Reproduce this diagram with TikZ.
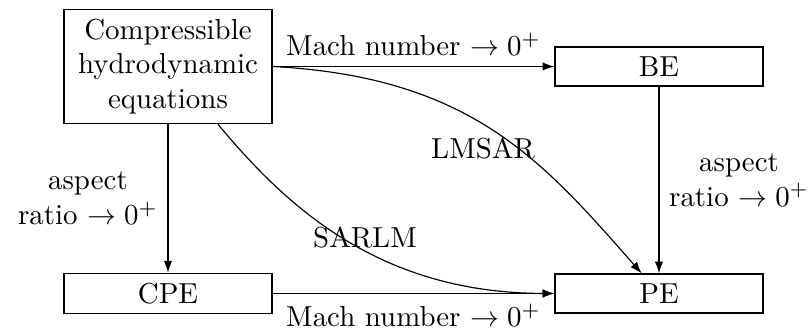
\documentclass[tikz,border=0pt]{standalone}
\usetikzlibrary{positioning,arrows.meta}
\begin{document}
\begin{tikzpicture}[x=0.346pt,y=-0.346pt,>={Latex[length=4.1pt,width=2.9pt]},
  box/.style={draw,minimum width=72pt,minimum height=13.5pt,inner sep=3.33pt,align=center},
  lbl/.style={align=center,inner sep=3.33pt}]
\useasboundingbox (0,0) rectangle (812,335);
\node[box] (cce) at (168,66.5) {Compressible\\hydrodynamic\\equations};
\node[box] (be) at (659,66.5) {BE};
\node[box] (cpe) at (168,293.5) {CPE};
\node[box] (pe) at (659,293.5) {PE};
\coordinate (s1) at ([xshift=17.3pt]cce.south);
\coordinate (e1) at ([xshift=-6pt]pe.north);
\draw[->] (cce.east) -- node[lbl,above] (l1) {Mach number $\to 0^+$} (be.west);
\draw[->] (cce.south) -- node[lbl,left] (l2) {aspect\\ratio $\to 0^+$} (cpe.north);
\draw[->] (cpe.east) -- node[lbl,below] (l3) {Mach number $\to 0^+$} (pe.west);
\draw[->] (be.south) -- node[lbl,right] (l4) {aspect\\ratio $\to 0^+$} (pe.north);
\draw[->] (cce.east) .. controls (472,77) and (543,161.5) .. (e1);
\draw[->] (s1) .. controls (283,202) and (375,293) .. (pe.west);
\node[lbl] (lmsar) at (483,148) {LMSAR};
\node[lbl] (sarlm) at (365,237) {SARLM};
\end{tikzpicture}
\end{document}
